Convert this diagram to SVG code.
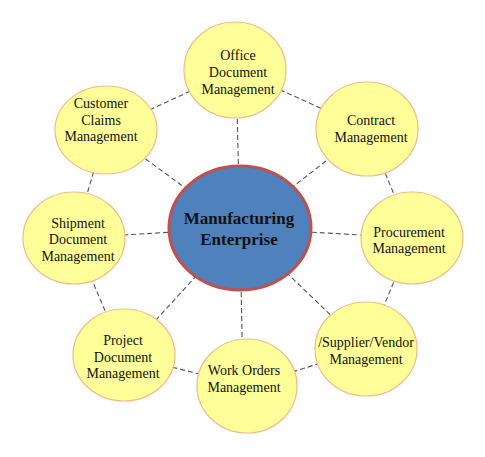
<svg xmlns="http://www.w3.org/2000/svg" width="485" height="457" viewBox="0 0 485 457">
<style>
.conn line{stroke:#555;stroke-width:1.1;stroke-dasharray:5 3;fill:none}
.node ellipse{fill:#FFFF99;stroke:#F5B88A;stroke-width:1.2}
.node text{font-family:"Liberation Serif","Times New Roman",serif;font-size:14px;fill:#111;text-anchor:middle}
#center ellipse{fill:#4F81BD;stroke:#C0504D;stroke-width:3}
#center text{font-family:"Liberation Serif","Times New Roman",serif;font-size:17px;font-weight:bold;fill:#111;text-anchor:middle}
</style>
<rect width="485" height="457" fill="#fff"/>
<g id="connectors" class="conn">
<line x1="240" y1="228" x2="236" y2="70"/>
<line x1="240" y1="228" x2="367" y2="129"/>
<line x1="240" y1="228" x2="412" y2="238"/>
<line x1="240" y1="228" x2="366" y2="349"/>
<line x1="240" y1="228" x2="243" y2="386"/>
<line x1="240" y1="228" x2="124" y2="355"/>
<line x1="240" y1="228" x2="74" y2="238"/>
<line x1="240" y1="228" x2="106" y2="130"/>
<line x1="236" y1="70" x2="367" y2="129"/>
<line x1="367" y1="129" x2="412" y2="238"/>
<line x1="412" y1="238" x2="366" y2="349"/>
<line x1="366" y1="349" x2="247" y2="386"/>
<line x1="247" y1="386" x2="124" y2="355"/>
<line x1="124" y1="355" x2="74" y2="238"/>
<line x1="74" y1="238" x2="106" y2="130"/>
<line x1="106" y1="130" x2="236" y2="70"/>
</g>
<g id="office" class="node"><ellipse cx="235" cy="70" rx="51" ry="48"/><text x="238" y="60">Office</text><text x="238" y="77">Document</text><text x="238" y="94">Management</text></g>
<g id="contract" class="node"><ellipse cx="367" cy="129" rx="51" ry="47"/><text x="371" y="125">Contract</text><text x="371" y="142">Management</text></g>
<g id="procurement" class="node"><ellipse cx="412" cy="238" rx="51" ry="46"/><text x="409" y="237">Procurement</text><text x="409" y="253">Management</text></g>
<g id="supplier" class="node"><ellipse cx="366" cy="349" rx="51" ry="47"/><text x="366" y="347">/Supplier/Vendor</text><text x="366" y="364">Management</text></g>
<g id="workorders" class="node"><ellipse cx="247" cy="386" rx="50" ry="47"/><text x="244" y="375">Work Orders</text><text x="244" y="392">Management</text></g>
<g id="project" class="node"><ellipse cx="124" cy="355" rx="51" ry="46"/><text x="123" y="345">Project</text><text x="123" y="362">Document</text><text x="123" y="378">Management</text></g>
<g id="shipment" class="node"><ellipse cx="74" cy="238" rx="51" ry="46"/><text x="78" y="228">Shipment</text><text x="78" y="244">Document</text><text x="78" y="261">Management</text></g>
<g id="customer" class="node"><ellipse cx="106" cy="130" rx="51" ry="44"/><text x="101" y="108">Customer</text><text x="101" y="125">Claims</text><text x="101" y="141">Management</text></g>
<g id="center"><ellipse cx="240" cy="228" rx="71" ry="62"/><text x="239" y="224">Manufacturing</text><text x="239" y="245">Enterprise</text></g>
</svg>
